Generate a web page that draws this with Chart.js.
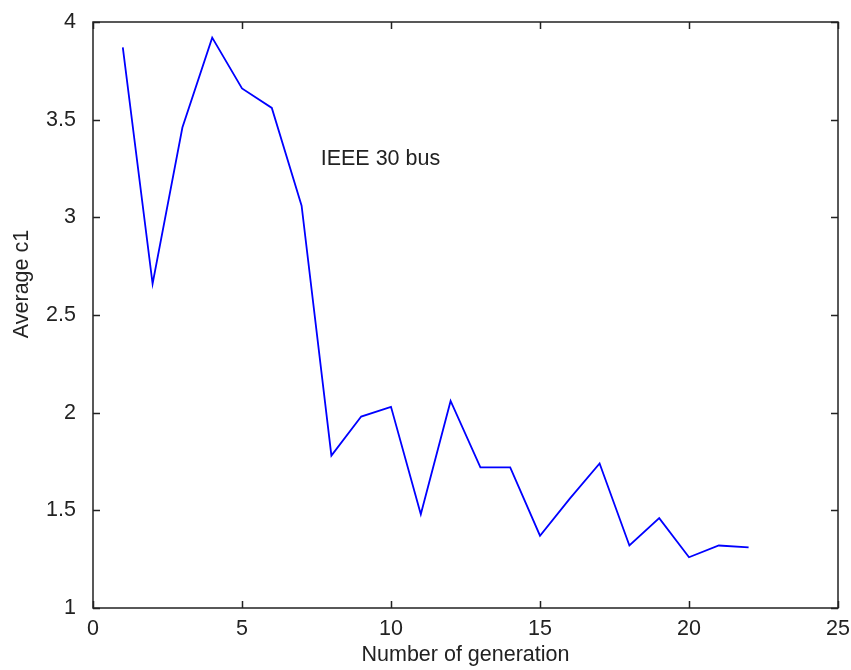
<!DOCTYPE html>
<html>
<head>
<meta charset="utf-8">
<title>Average c1</title>
<script src="https://cdn.jsdelivr.net/npm/chart.js@4/dist/chart.umd.min.js"></script>
<style>
  html, body { margin: 0; padding: 0; background: #fff; }
  #wrap { width: 851px; height: 670px; position: relative; }
</style>
</head>
<body>
<div id="wrap"><canvas id="c1Chart"></canvas></div>
<script>
// generation number and average c1 per generation
const generations = [1, 2, 3, 4, 5, 6, 7, 8, 9, 10, 11, 12, 13, 14, 15, 16, 17, 18, 19, 20, 21, 22];
const avgC1 = [3.87, 2.66, 3.46, 3.92, 3.66, 3.56, 3.06, 1.78, 1.98, 2.03, 1.48, 2.06,
               1.72, 1.72, 1.37, 1.56, 1.74, 1.32, 1.46, 1.26, 1.32, 1.31];

const xTicks = [0, 5, 10, 15, 20, 25];
const yTicks = [1, 1.5, 2, 2.5, 3, 3.5, 4];

const noteText = "IEEE 30 bus";
const notePos = [7.64, 3.30];

const FONT = "'Liberation Sans', Arial, sans-serif";
const AXIS = "#222";
const TICK_LEN = 7;

// box outline, inward tick marks, note text and the y title
const matlabFrame = {
  id: "matlabFrame",
  afterDraw(chart) {
    const { ctx, chartArea: a, scales: { x, y } } = chart;
    ctx.save();
    ctx.strokeStyle = AXIS;
    ctx.lineWidth = 1.5;
    ctx.strokeRect(a.left, a.top, a.right - a.left, a.bottom - a.top);
    ctx.beginPath();
    xTicks.forEach(v => {
      const px = Math.round(x.getPixelForValue(v)) + 0.5;
      ctx.moveTo(px, a.bottom); ctx.lineTo(px, a.bottom - TICK_LEN);
      ctx.moveTo(px, a.top); ctx.lineTo(px, a.top + TICK_LEN);
    });
    yTicks.forEach(v => {
      const py = Math.round(y.getPixelForValue(v)) + 0.5;
      ctx.moveTo(a.left, py); ctx.lineTo(a.left + TICK_LEN, py);
      ctx.moveTo(a.right, py); ctx.lineTo(a.right - TICK_LEN, py);
    });
    ctx.stroke();

    ctx.fillStyle = AXIS;
    ctx.font = "21.5px " + FONT;
    ctx.textAlign = "left";
    ctx.textBaseline = "middle";
    ctx.fillText(noteText, x.getPixelForValue(notePos[0]), y.getPixelForValue(notePos[1]));

    ctx.translate(22, 284);
    ctx.rotate(-Math.PI / 2);
    ctx.textAlign = "center";
    ctx.fillText("Average c1", 0, 0);
    ctx.restore();
  }
};

new Chart(document.getElementById("c1Chart"), {
  type: "line",
  data: {
    datasets: [{
      data: generations.map((g, i) => ({ x: g, y: avgC1[i] })),
      borderColor: "#0000ff",
      borderWidth: 1.8,
      pointRadius: 0,
      tension: 0,
      fill: false,
    }],
  },
  options: {
    responsive: true,
    maintainAspectRatio: false,
    animation: false,
    layout: { padding: { top: 22, right: 13, left: 0, bottom: 0 } },
    plugins: { legend: { display: false }, tooltip: { enabled: false } },
    scales: {
      x: {
        type: "linear",
        min: 0,
        max: 25,
        afterBuildTicks: s => { s.ticks = xTicks.map(v => ({ value: v })); },
        afterFit: s => { s.height = 62; s.paddingLeft = 0; s.paddingRight = 0; },
        grid: { display: false },
        border: { display: false },
        ticks: { color: AXIS, font: { family: FONT, size: 21.5 }, padding: 0, maxRotation: 0 },
        title: {
          display: true,
          text: "Number of generation",
          color: AXIS,
          font: { family: FONT, size: 21.5 },
          padding: { top: 0, bottom: 2 },
        },
      },
      y: {
        type: "linear",
        min: 1,
        max: 4,
        afterBuildTicks: s => { s.ticks = yTicks.map(v => ({ value: v })); },
        afterFit: s => { s.width = 93; s.paddingTop = 0; s.paddingBottom = 0; },
        grid: { display: false },
        border: { display: false },
        ticks: {
          color: AXIS,
          font: { family: FONT, size: 21.5 },
          padding: 9,
          callback: v => String(v),
        },
      },
    },
  },
  plugins: [matlabFrame],
});
</script>
</body>
</html>
